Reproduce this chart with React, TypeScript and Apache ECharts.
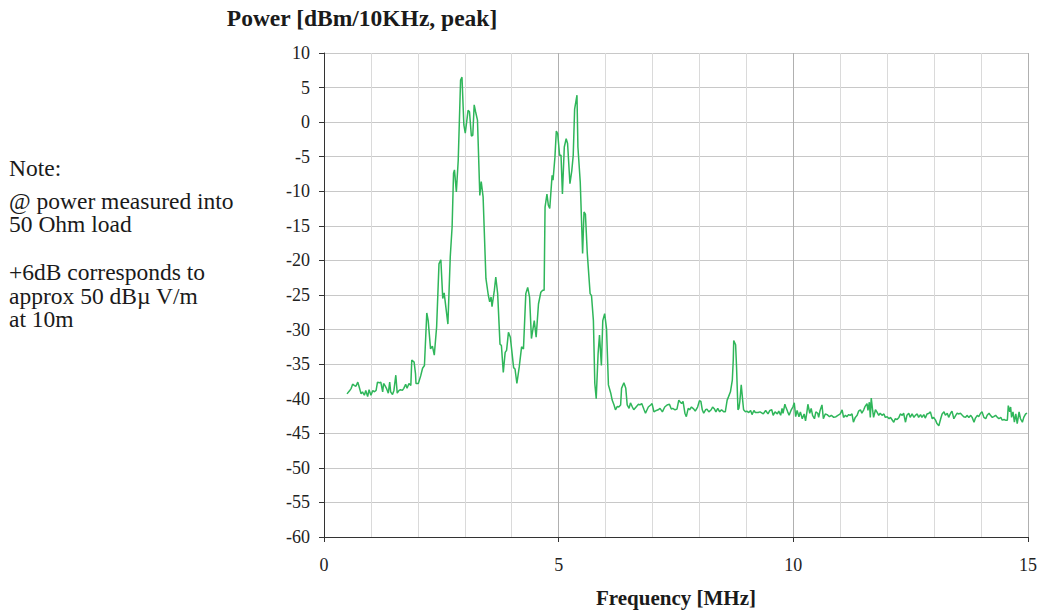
import React, { useEffect, useRef } from "react";
import * as echarts from "echarts";

const chartTitle = "Power [dBm/10KHz, peak]";
const xAxisTitle = "Frequency [MHz]";
const noteLines = [
  "Note:",
  "@ power measured into",
  "50 Ohm load",
  "+6dB corresponds to",
  "approx 50 dBµ V/m",
  "at 10m",
];
const noteY = [168, 200.5, 224, 272, 295.5, 319];

const xMin = 0;
const xMax = 15;
const yMin = -60;
const yMax = 10;

// 0.5 - 2.1 MHz baseline
const baseFreq = [
  0.49, 0.54, 0.58, 0.61, 0.65, 0.68, 0.72, 0.75, 0.79, 0.82, 0.86, 0.89, 0.93, 0.96, 1.0, 1.04,
  1.07, 1.11, 1.14, 1.18, 1.21, 1.25, 1.27, 1.3, 1.33, 1.37, 1.4, 1.42, 1.46, 1.49, 1.53, 1.56,
  1.6, 1.63, 1.67, 1.7, 1.74, 1.77, 1.81, 1.85, 1.87, 1.92, 1.95, 1.96, 2.01, 2.06, 2.1, 2.14,
];
const basePower = [
  -39.3, -38.9, -38.5, -37.9, -38.1, -38.2, -37.6, -38.3, -39.3, -39.0, -39.5, -38.8, -39.7, -38.7, -39.5, -38.8,
  -39.0, -38.8, -37.6, -37.7, -37.6, -39.0, -37.8, -38.1, -38.5, -39.2, -37.6, -39.0, -39.4, -38.8, -36.6, -39.2,
  -38.8, -38.7, -38.8, -38.5, -37.9, -38.5, -37.8, -38.1, -34.4, -34.7, -36.4, -37.8, -37.8, -36.7, -35.6, -35.2,
];

// first lobe, about 3 MHz
const lobe1Freq = [
  2.19, 2.22, 2.27, 2.31, 2.35, 2.4, 2.45, 2.49, 2.53, 2.56, 2.64, 2.69, 2.73, 2.76, 2.78, 2.82,
  2.86, 2.91, 2.94, 2.98, 3.01, 3.07, 3.1, 3.14, 3.17, 3.2, 3.23, 3.27, 3.32, 3.35, 3.39, 3.45,
  3.5, 3.53, 3.56, 3.58, 3.63, 3.66, 3.7, 3.75, 3.78, 3.82,
];
const lobe1Power = [
  -27.6, -28.7, -32.8, -32.4, -33.7, -29.6, -20.5, -19.9, -25.5, -24.7, -29.2, -19.5, -15.1, -7.4, -6.9, -10.1,
  -5.5, 6.1, 6.5, -0.4, -1.6, 1.7, 1.5, -2.0, -1.9, 2.5, 1.5, 0.3, -10.6, -8.6, -10.8, -22.6,
  -25.0, -26.0, -25.3, -26.7, -24.3, -22.4, -24.8, -32.1, -32.3, -36.2,
];

// second lobe, about 5 MHz
const lobe2Freq = [
  3.86, 3.89, 3.93, 3.97, 4.04, 4.07, 4.11, 4.16, 4.21, 4.25, 4.3, 4.34, 4.38, 4.42, 4.48, 4.52,
  4.57, 4.62, 4.66, 4.69, 4.71, 4.75, 4.78, 4.81, 4.86, 4.88, 4.92, 4.95, 4.98, 5.02, 5.05, 5.08,
  5.12, 5.16, 5.19, 5.24, 5.28, 5.31, 5.34, 5.39, 5.41, 5.46, 5.51, 5.54, 5.57, 5.61, 5.67, 5.7,
  5.74, 5.77, 5.8, 5.84, 5.87, 5.91, 5.94, 5.98, 6.02,
];
const lobe2Power = [
  -33.3, -33.0, -30.4, -31.1, -35.5, -35.7, -37.8, -35.4, -32.5, -32.8, -24.8, -23.9, -25.3, -31.3, -28.7, -31.1,
  -26.3, -24.6, -24.3, -24.3, -12.3, -10.4, -12.0, -12.5, -7.7, -8.4, -5.1, -1.3, -1.7, -4.8, -4.8, -10.4,
  -3.6, -2.4, -3.1, -8.9, -7.0, -4.8, 1.9, 3.9, -3.6, -8.7, -19.0, -13.0, -13.3, -19.0, -24.8, -25.1,
  -28.7, -37.8, -40.0, -33.5, -30.8, -35.2, -28.7, -27.7, -29.9,
];

// 6 - 10.5 MHz floor with the 8.7 MHz spur
const midFreq = [
  6.06, 6.11, 6.14, 6.18, 6.21, 6.25, 6.28, 6.32, 6.34, 6.39, 6.43, 6.46, 6.5, 6.53, 6.57, 6.6,
  6.65, 6.7, 6.73, 6.77, 6.82, 6.85, 6.91, 6.96, 6.99, 7.03, 7.08, 7.12, 7.16, 7.21, 7.26, 7.31,
  7.36, 7.4, 7.43, 7.48, 7.52, 7.56, 7.58, 7.62, 7.65, 7.69, 7.72, 7.76, 7.79, 7.83, 7.88, 7.91,
  7.96, 8.0, 8.03, 8.06, 8.09, 8.13, 8.16, 8.2, 8.25, 8.28, 8.32, 8.35, 8.39, 8.43, 8.47, 8.52,
  8.55, 8.59, 8.62, 8.66, 8.7, 8.72, 8.73, 8.77, 8.79, 8.82, 8.84, 8.86, 8.89, 8.92, 8.94, 8.98,
  9.01, 9.05, 9.09, 9.12, 9.16, 9.19, 9.25, 9.29, 9.36, 9.41, 9.46, 9.5, 9.54, 9.57, 9.61, 9.66,
  9.69, 9.73, 9.76, 9.78, 9.82, 9.84, 9.88, 9.91, 9.95, 9.99, 10.02, 10.05, 10.08, 10.12, 10.15, 10.19,
  10.23, 10.26, 10.29, 10.31, 10.35, 10.38, 10.41, 10.45, 10.48, 10.52,
];
const midPower = [
  -38.0, -39.2, -40.2, -40.9, -41.6, -41.1, -41.2, -40.9, -38.5, -37.7, -38.5, -40.9, -41.4, -40.6, -41.2, -41.6,
  -41.2, -40.8, -40.9, -40.7, -41.6, -42.1, -41.2, -40.9, -40.7, -41.9, -41.7, -41.6, -41.4, -41.9, -41.2, -40.9,
  -40.8, -41.5, -41.4, -41.6, -41.5, -40.2, -40.4, -40.7, -40.4, -42.1, -42.6, -41.4, -41.6, -41.2, -41.5, -41.8,
  -41.2, -40.3, -40.4, -41.6, -42.1, -41.6, -41.5, -41.9, -41.6, -41.2, -41.5, -41.9, -41.4, -41.9, -41.6, -41.9,
  -41.9, -40.2, -39.7, -39.0, -37.3, -34.4, -31.6, -32.2, -35.4, -41.6, -41.4, -40.4, -38.0, -40.2, -41.6, -41.9,
  -41.8, -42.0, -41.7, -42.3, -41.7, -42.0, -42.0, -41.9, -42.2, -41.7, -42.2, -41.7, -41.6, -42.4, -41.9, -42.2,
  -41.8, -42.4, -41.4, -42.1, -40.8, -41.2, -41.9, -42.4, -41.7, -41.2, -40.6, -42.6, -41.7, -42.6, -41.9, -42.9,
  -42.2, -43.2, -41.9, -40.8, -42.1, -41.4, -42.4, -42.9, -41.9, -42.1,
];

// 10.5 - 15 MHz floor
const tailFreq = [
  10.54, 10.57, 10.61, 10.64, 10.68, 10.72, 10.77, 10.81, 10.86, 10.91, 10.95, 11.0, 11.04, 11.07, 11.11, 11.14,
  11.18, 11.21, 11.25, 11.28, 11.32, 11.36, 11.39, 11.43, 11.46, 11.5, 11.53, 11.57, 11.59, 11.62, 11.64, 11.66,
  11.69, 11.71, 11.75, 11.78, 11.82, 11.85, 11.89, 11.93, 11.96, 12.0, 12.04, 12.07, 12.1, 12.14, 12.17, 12.21,
  12.25, 12.28, 12.32, 12.35, 12.39, 12.42, 12.46, 12.49, 12.53, 12.57, 12.6, 12.64, 12.67, 12.71, 12.74, 12.78,
  12.81, 12.85, 12.89, 12.92, 12.96, 12.99, 13.03, 13.06, 13.1, 13.14, 13.17, 13.21, 13.24, 13.28, 13.31, 13.35,
  13.38, 13.42, 13.46, 13.49, 13.53, 13.56, 13.6, 13.63, 13.67, 13.7, 13.74, 13.78, 13.81, 13.85, 13.88, 13.92,
  13.95, 13.99, 14.02, 14.06, 14.1, 14.13, 14.17, 14.2, 14.24, 14.27, 14.31, 14.35, 14.38, 14.42, 14.45, 14.49,
  14.52, 14.56, 14.58, 14.61, 14.63, 14.65, 14.68, 14.71, 14.74, 14.77, 14.81, 14.84, 14.88, 14.91, 14.95, 14.98,
];
const tailPower = [
  -42.7, -41.7, -40.9, -42.9, -42.2, -42.3, -42.6, -42.4, -42.7, -42.6, -42.4, -42.2, -41.6, -42.7, -42.4, -42.6,
  -42.3, -42.4, -42.2, -43.4, -42.7, -42.4, -41.8, -41.6, -42.1, -41.6, -41.1, -40.7, -41.7, -40.5, -42.7, -39.9,
  -41.7, -42.7, -41.6, -41.9, -42.4, -42.1, -42.4, -42.2, -42.7, -42.6, -42.9, -42.7, -43.0, -43.4, -42.9, -43.0,
  -42.7, -42.2, -42.4, -42.1, -43.4, -42.4, -42.1, -42.7, -42.2, -42.7, -42.4, -42.2, -42.7, -42.3, -42.7, -42.3,
  -42.8, -42.2, -42.1, -41.9, -42.9, -42.7, -43.1, -43.6, -43.9, -42.9, -42.2, -41.9, -42.4, -42.1, -42.7, -42.1,
  -41.8, -42.9, -42.4, -42.1, -42.2, -42.1, -42.4, -42.6, -42.7, -42.4, -42.7, -42.4, -42.7, -43.4, -42.8, -42.4,
  -42.6, -42.1, -41.9, -42.7, -42.9, -42.4, -42.1, -42.4, -42.7, -42.6, -42.4, -42.7, -42.9, -42.7, -43.1, -43.0,
  -43.1, -43.1, -41.0, -41.9, -41.2, -42.7, -41.9, -43.4, -42.2, -43.6, -41.9, -42.9, -43.4, -42.7, -42.2, -42.1,
];

const SERIF = "'Liberation Serif', 'Times New Roman', Times, serif";

function buildData(): [number, number][] {
  const fs = [baseFreq, lobe1Freq, lobe2Freq, midFreq, tailFreq];
  const ps = [basePower, lobe1Power, lobe2Power, midPower, tailPower];
  const out: [number, number][] = [];
  fs.forEach((f, s) => f.forEach((v, i) => out.push([v, ps[s][i]])));
  return out;
}

export default function App() {
  const ref = useRef<HTMLDivElement>(null);
  useEffect(() => {
    document.body.style.margin = "0";
    if (!ref.current) return;
    const chart = echarts.init(ref.current, undefined, { renderer: "svg" });
    const graphics: any[] = [
      {
        type: "text",
        x: 362,
        y: 18,
        style: {
          text: chartTitle,
          font: `bold 23.5px ${SERIF}`,
          fill: "#1a1a1a",
          textAlign: "center",
          textVerticalAlign: "middle",
        },
      },
      {
        type: "text",
        x: 676,
        y: 598,
        style: {
          text: xAxisTitle,
          font: `bold 21px ${SERIF}`,
          fill: "#1a1a1a",
          textAlign: "center",
          textVerticalAlign: "middle",
        },
      },
    ];
    noteLines.forEach((t, i) => {
      graphics.push({
        type: "text",
        x: 9,
        y: noteY[i],
        style: {
          text: t,
          font: `23.5px ${SERIF}`,
          fill: "#1a1a1a",
          textAlign: "left",
          textVerticalAlign: "middle",
        },
      });
    });
    chart.setOption({
      animation: false,
      backgroundColor: "#ffffff",
      grid: { left: 324, right: 13, top: 53, bottom: 75, containLabel: false },
      xAxis: {
        type: "value",
        min: xMin,
        max: xMax,
        interval: 5,
        axisLine: { show: true, onZero: false, lineStyle: { color: "#333", width: 1 } },
        axisTick: { show: true, length: 5, lineStyle: { color: "#333" } },
        axisLabel: { fontFamily: SERIF, fontSize: 18, color: "#222", margin: 19 },
        splitLine: { show: true, lineStyle: { color: "#b0b0b0", width: 1 } },
        minorTick: { show: false, splitNumber: 5 },
        minorSplitLine: { show: true, lineStyle: { color: "#dadada", width: 1 } },
      },
      yAxis: {
        type: "value",
        min: yMin,
        max: yMax,
        interval: 5,
        axisLine: { show: true, onZero: false, lineStyle: { color: "#333", width: 1 } },
        axisTick: { show: true, length: 5, lineStyle: { color: "#333" } },
        axisLabel: {
          fontFamily: SERIF,
          fontSize: 18,
          color: "#222",
          margin: 14,
          padding: [6, 0, 0, 0],
        },
        splitLine: { show: true, lineStyle: { color: "#c8c8c8", width: 1 } },
      },
      series: [
        {
          type: "line",
          data: buildData(),
          showSymbol: false,
          symbol: "none",
          lineStyle: { color: "#2fb65a", width: 1.5 },
          itemStyle: { color: "#2fb65a" },
          clip: true,
        },
      ],
      graphic: graphics,
    });
    return () => chart.dispose();
  }, []);
  return (
    <div
      ref={ref}
      style={{ position: "absolute", left: 0, top: 0, width: 1041, height: 612 }}
    />
  );
}
